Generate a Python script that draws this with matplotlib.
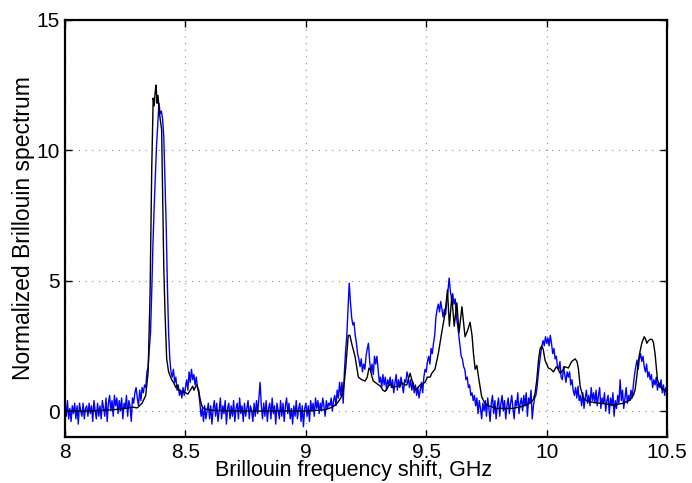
import numpy as np
import matplotlib
matplotlib.use('Agg')
from matplotlib import pyplot as plt

# measured spectrum (blue), sampled every 5 MHz from 8 to 10.5 GHz
blue_vals = [
    0.3, -0.2, 0.4, -0.3, 0.1, -0.4, 0.2, -0.1, 0.3, -0.3,
    0.2, -0.5, 0.3, 0.0, -0.2, 0.3, -0.3, 0.1, 0.2, -0.2,
    0.3, -0.1, 0.2, -0.4, 0.4, 0.0, -0.3, 0.3, -0.2, 0.2,
    -0.3, 0.4, 0.1, -0.2, 0.5, -0.4, 0.3, 0.6, 0.0, 0.4,
    -0.2, 0.6, 0.2, 0.5, -0.1, 0.4, 0.0, 0.5, -0.3, 0.3,
    0.1, 0.6, -0.2, 0.4, 0.2, -0.4, 0.5, 0.3, 0.7, 0.9,
    0.5, 0.2, 0.8, 0.4, 0.9, 0.7, 1.0, 0.9, 1.5, 1.7,
    2.4, 3.0, 4.6, 6.4, 7.8, 9.0, 10.2, 11.0, 11.8, 11.4,
    11.5, 11.2, 10.5, 8.8, 7.1, 4.8, 3.0, 2.0, 1.5, 1.3,
    1.6, 1.1, 1.3, 0.8, 1.0, 0.6, 0.8, 0.5, 0.9, 0.6,
    0.9, 1.2, 0.8, 1.5, 1.1, 1.6, 1.2, 1.4, 1.0, 1.3,
    0.9, 0.7, 0.3, -0.2, 0.1, -0.4, 0.2, -0.3, 0.0, 0.3,
    -0.3, 0.2, -0.5, 0.1, 0.4, -0.2, 0.3, -0.4, 0.0, 0.5,
    -0.3, 0.2, -0.1, 0.4, -0.5, 0.1, 0.3, -0.3, 0.2, -0.2,
    0.4, -0.4, 0.1, 0.3, -0.3, 0.5, -0.1, 0.2, -0.4, 0.3,
    -0.2, 0.1, 0.4, -0.3, 0.2, 0.0, -0.4, 0.3, -0.2, 0.4,
    -0.1, 0.5, 1.1, 0.2, -0.3, 0.3, -0.2, 0.4, -0.4, 0.1,
    0.3, -0.3, 0.5, -0.1, 0.2, -0.5, 0.3, 0.0, -0.3, 0.4,
    -0.2, 0.3, -0.4, 0.2, 0.5, -0.1, 0.3, -0.3, 0.1, -0.5,
    0.2, -0.2, 0.4, -0.3, 0.1, 0.3, -0.4, 0.2, -0.6, 0.1,
    0.3, -0.2, 0.2, -0.4, 0.4, 0.0, 0.3, -0.2, 0.5, 0.1,
    0.4, -0.1, 0.3, 0.0, 0.5, 0.2, -0.2, 0.4, 0.1, 0.3,
    0.2, 0.5, 0.0, 0.4, 0.6, 0.2, 0.8, 0.5, 1.1, 0.6,
    1.1, 0.3, 1.5, 2.3, 2.9, 3.9, 4.9, 4.2, 3.6, 3.3,
    3.4, 2.9, 2.6, 2.2, 2.0, 1.7, 2.0, 1.5, 1.8, 1.6,
    2.1, 2.4, 2.6, 1.9, 1.5, 1.8, 1.4, 2.1, 1.8, 2.1,
    1.6, 1.1, 1.3, 0.9, 1.4, 1.0, 1.3, 0.8, 1.2, 1.0,
    1.3, 0.9, 1.2, 0.7, 1.1, 1.4, 0.8, 1.2, 0.9, 1.3,
    1.0, 0.7, 1.2, 1.1, 1.5, 1.3, 0.9, 1.2, 0.8, 1.1,
    0.7, 1.0, 0.6, 0.9, 0.5, 0.8, 1.1, 0.7, 1.3, 1.6,
    1.5, 1.9, 2.1, 1.8, 2.4, 2.2, 2.6, 2.9, 3.6, 3.9,
    4.1, 3.8, 4.2, 3.9, 3.6, 3.9, 3.7, 4.2, 4.6, 5.1,
    4.6, 4.3, 4.5, 4.1, 4.3, 3.6, 3.3, 2.9, 2.5, 2.1,
    2.0, 1.7, 1.6, 1.2, 1.3, 0.9, 1.0, 0.6, 0.7, 0.4,
    0.6, 0.2, 0.5, -0.1, 0.4, 0.1, -0.3, 0.3, 0.0, 0.4,
    -0.2, 0.5, 0.1, -0.4, 0.3, 0.6, -0.1, 0.4, -0.3, 0.2,
    0.5, -0.2, 0.3, 0.6, 0.0, 0.4, -0.3, 0.2, 0.5, -0.1,
    0.3, 0.6, 0.1, -0.3, 0.4, 0.2, 0.7, -0.1, 0.3, 0.5,
    0.0, 0.6, 0.2, 0.7, -0.2, 0.5, 0.3, 0.8, -0.3, 0.2,
    0.5, 0.6, 0.9, 1.4, 1.8, 2.2, 2.5, 2.7, 2.5, 2.85,
    2.6, 2.8, 2.5, 2.9, 2.6, 2.2, 2.4, 2.0, 2.1, 1.7,
    1.6, 1.9, 1.3, 1.2, 1.7, 1.4, 1.1, 1.5, 1.3, 1.5,
    1.0, 1.2, 0.8, 0.6, 0.9, 0.5, 0.95, 0.4, 0.6, 0.2,
    0.7, 0.1, 0.5, 0.8, 0.3, 0.6, 0.2, 0.9, 0.4, 0.7,
    0.3, 0.8, 0.2, 0.6, 0.9, 0.1, 0.5, 0.3, 0.7, 0.0,
    0.4, 0.6, -0.1, 0.5, 0.2, 0.7, -0.2, 0.4, 0.1, 0.6,
    0.3, 1.2, 0.4, 0.8, 0.1, 0.5, 0.9, 0.3, 0.6, 0.4,
    0.8, 0.5, 1.0, 1.4, 1.7, 1.95, 1.6, 2.0, 2.2, 1.9,
    2.1, 1.7, 1.5, 1.8, 1.3, 1.5, 1.2, 1.4, 0.9, 1.2,
    1.0, 1.3, 0.8, 1.1, 0.9, 1.2, 0.7, 1.0, 0.6, 0.9,
    0.8,
]
blue_freq = np.linspace(8.0, 10.5, len(blue_vals))

# calculated spectrum (black)
black_freq = [
    8.00, 8.10, 8.20, 8.25, 8.28, 8.30, 8.32, 8.335, 8.345, 8.353,
    8.36, 8.366, 8.37, 8.374, 8.378, 8.382, 8.386, 8.39, 8.395, 8.401,
    8.405, 8.41, 8.415, 8.422, 8.43, 8.443, 8.45, 8.46, 8.465, 8.47,
    8.478, 8.485, 8.49, 8.50, 8.51, 8.52, 8.53, 8.535, 8.54, 8.547,
    8.555, 8.56, 8.565, 8.57, 8.58, 8.61, 8.70, 9.00, 9.08, 9.11,
    9.13, 9.145, 9.156, 9.165, 9.17, 9.176, 9.183, 9.19, 9.204, 9.218,
    9.232, 9.246, 9.255, 9.262, 9.267, 9.275, 9.28, 9.295, 9.31, 9.32,
    9.329, 9.34, 9.35, 9.36, 9.377, 9.39, 9.398, 9.41, 9.419, 9.428,
    9.433, 9.44, 9.454, 9.465, 9.475, 9.485, 9.495, 9.505, 9.516, 9.523,
    9.536, 9.55, 9.564, 9.578, 9.588, 9.596, 9.606, 9.616, 9.627, 9.636,
    9.648, 9.661, 9.672, 9.682, 9.69, 9.696, 9.703, 9.71, 9.717, 9.73,
    9.74, 9.751, 9.79, 9.86, 9.90, 9.917, 9.934, 9.945, 9.952, 9.959,
    9.966, 9.973, 9.98, 9.986, 9.993, 10.007, 10.018, 10.028, 10.04, 10.048,
    10.056, 10.066, 10.076, 10.09, 10.104, 10.118, 10.126, 10.132, 10.139, 10.152,
    10.165, 10.18, 10.222, 10.277, 10.318, 10.346, 10.36, 10.367, 10.374, 10.381,
    10.388, 10.395, 10.405, 10.411, 10.416, 10.423, 10.43, 10.437, 10.443, 10.45,
    10.455, 10.46, 10.47, 10.48, 10.49, 10.50,
]
black_vals = [
    0.0, 0.0, 0.05, 0.1, 0.15, 0.12, 0.3, 0.6, 1.5, 4.5,
    9.3, 12.0, 11.7, 12.2, 12.5, 11.8, 12.1, 11.6, 11.2, 10.8,
    8.5, 5.5, 3.8, 2.0, 1.5, 1.2, 1.1, 0.9, 1.0, 0.8,
    0.8, 0.7, 0.75, 0.7, 0.65, 0.8, 0.95, 0.8, 0.9, 1.0,
    0.8, 0.5, 0.3, 0.15, 0.08, 0.03, 0.0, 0.0, 0.05, 0.15,
    0.3, 0.5, 0.8, 1.6, 2.2, 2.9, 2.9, 2.6, 2.1, 1.3,
    1.2, 1.15, 1.3, 1.65, 1.6, 1.3, 1.15, 1.05, 0.95, 0.8,
    0.75, 0.9, 1.05, 0.9, 0.95, 0.95, 1.1, 1.0, 1.0, 1.3,
    1.45, 1.2, 0.8, 0.9, 1.0, 1.05, 1.1, 1.3, 1.3, 1.45,
    1.6, 2.2, 3.0, 3.75, 4.65, 3.25, 4.4, 3.25, 4.15, 3.0,
    4.0, 2.85, 3.1, 3.4, 2.9, 2.2, 1.6, 1.75, 1.3, 0.55,
    0.35, 0.23, 0.1, 0.1, 0.18, 0.25, 0.32, 0.45, 0.7, 1.2,
    1.95, 2.4, 2.5, 2.35, 1.95, 1.65, 1.6, 1.5, 1.7, 1.6,
    1.45, 1.55, 1.7, 1.65, 1.9, 2.0, 1.9, 1.6, 0.95, 0.5,
    0.4, 0.35, 0.3, 0.23, 0.3, 0.42, 0.6, 0.8, 1.3, 1.95,
    2.3, 2.6, 2.85, 2.75, 2.6, 2.7, 2.75, 2.75, 2.65, 2.2,
    1.7, 1.2, 0.95, 0.85, 0.8, 0.75,
]

x_ticks = [8, 8.5, 9, 9.5, 10, 10.5]
x_tick_labels = ['8', '8.5', '9', '9.5', '10', '10.5']
y_ticks = [0, 5, 10, 15]

plt.rcParams['font.family'] = ['Liberation Sans', 'DejaVu Sans']

fig = plt.figure(figsize=(6.92, 4.83), dpi=100)
ax = fig.add_axes([0.094, 0.095, 0.870, 0.864])

ax.plot(blue_freq, blue_vals, color='#0000ff', lw=1.0)
ax.plot(black_freq, black_vals, color='black', lw=1.0)

ax.set_xlim(8, 10.5)
ax.set_ylim(-1, 15)
ax.set_xticks(x_ticks)
ax.set_xticklabels(x_tick_labels)
ax.set_yticks(y_ticks)
ax.grid(True, color='0.55', linestyle=(0, (1, 5)), lw=0.8)
ax.tick_params(direction='in', length=5, width=1, top=True, right=True,
               labelsize=15, pad=4)
for spine in ax.spines.values():
    spine.set_linewidth(1.6)

ax.set_xlabel('Brillouin frequency shift, GHz', fontsize=15.5, labelpad=-1)
ax.xaxis.label.set_x(0.48)
ax.set_ylabel('Normalized Brillouin spectrum', fontsize=16.5, labelpad=1)

fig.savefig('out.png', dpi=100)
